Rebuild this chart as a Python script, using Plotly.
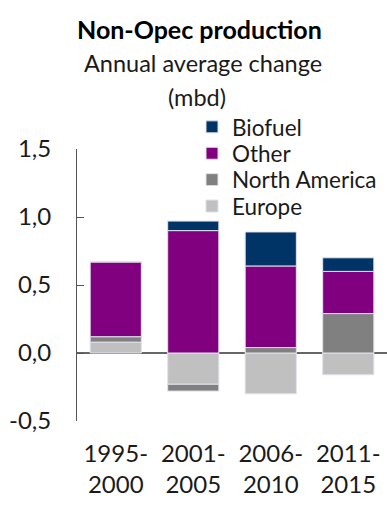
import plotly.graph_objects as go

categories = ["1995-<br>2000", "2001-<br>2005", "2006-<br>2010", "2011-<br>2015"]
europe = [0.08, -0.23, -0.30, -0.16]
north_america = [0.04, -0.05, 0.04, 0.29]
other = [0.55, 0.90, 0.60, 0.31]
biofuel = [0.0, 0.07, 0.25, 0.10]

y_tickvals = [-0.5, 0.0, 0.5, 1.0, 1.5]
y_ticktext = ["-0,5", "0,0", "0,5", "1,0", "1,5"]

FONT = "Lato, sans-serif"
edge = dict(color="rgba(225,225,235,1)", width=1)

series = [
    ("Europe", europe, "#c0c0c0", "legend4", 0.789),
    ("North America", north_america, "#808080", "legend3", 0.886),
    ("Other", other, "#800080", "legend2", 0.983),
    ("Biofuel", biofuel, "#003366", "legend", 1.080),
]

fig = go.Figure()
for name, vals, col, lg, _ in series:
    fig.add_trace(go.Bar(x=categories, y=vals, name=name, legend=lg,
                         marker=dict(color=col, line=edge)))

legend_common = dict(x=0.371, xanchor="left", yanchor="middle",
                     font=dict(size=22.5), bgcolor="rgba(0,0,0,0)",
                     borderwidth=0)
layout_legends = {}
for name, vals, col, lg, ly in series:
    layout_legends[lg] = dict(legend_common, y=ly)

fig.update_layout(
    width=387, height=507,
    margin=dict(l=77, r=0, t=149, b=86),
    barmode="relative", bargap=0.34,
    plot_bgcolor="white", paper_bgcolor="white",
    font=dict(family=FONT, size=24, color="#1a1a1a"),
    showlegend=True,
    xaxis=dict(showline=False, showgrid=False, ticks="", ticklabelstandoff=16,
               tickfont=dict(size=24)),
    yaxis=dict(range=[-0.5, 1.5], tickvals=y_tickvals, ticktext=y_ticktext,
               showgrid=False, showline=True, linecolor="#555555", linewidth=1,
               ticks="inside", ticklen=7, tickcolor="#555555",
               zeroline=True, zerolinecolor="#666666", zerolinewidth=1.5,
               ticklabelstandoff=20, tickfont=dict(size=24)),
    **layout_legends,
)

fig.add_annotation(text="<b>Non-Opec production</b>", xref="paper", yref="paper",
                   x=0.394, y=1.441, xanchor="center", yanchor="middle",
                   showarrow=False, font=dict(size=25, color="#000000"))
fig.add_annotation(text="Annual average change", xref="paper", yref="paper",
                   x=0.406, y=1.316, xanchor="center", yanchor="middle",
                   showarrow=False, font=dict(size=23.5))
fig.add_annotation(text="(mbd)", xref="paper", yref="paper",
                   x=0.387, y=1.191, xanchor="center", yanchor="middle",
                   showarrow=False, font=dict(size=23.5))

fig.write_html("out.html", post_script="document.body.style.margin='0';",
               config={"displayModeBar": False})
